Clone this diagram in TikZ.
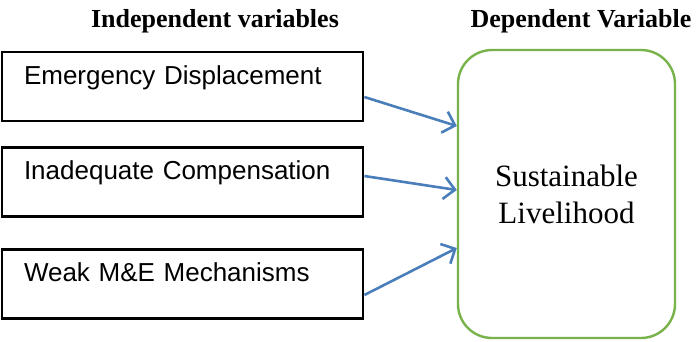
\documentclass[tikz,border=0pt]{standalone}
\usepackage{fontspec}
\setmainfont{Liberation Serif}
\newfontfamily\arialfont{Liberation Sans}
\usetikzlibrary{arrows.meta}
\definecolor{framegreen}{RGB}{119,179,74}
\definecolor{arrowblue}{RGB}{74,126,187}
\begin{document}
\begin{tikzpicture}[x=1pt,y=-1pt,
  head/.style={font=\fontsize{26}{30}\selectfont\bfseries,anchor=base,inner sep=0pt},
  varbox/.style={draw,line width=2.8pt,minimum height=69pt,text width=317pt,align=left,
    inner xsep=22pt,inner ysep=0pt,text height=10pt,text depth=15pt,
    font=\arialfont\fontsize{26}{30}\selectfont},
  depbox/.style={draw=framegreen,line width=2.4pt,rounded corners=34pt,minimum width=217pt,
    minimum height=288pt,align=center,font=\fontsize{31}{37}\selectfont},
  link/.style={draw=arrowblue,line width=2.6pt,-{Straight Barb[length=11pt,width=22pt,line width=2.6pt]}}]
\useasboundingbox (0,0) rectangle (699,341);
\node[head] (indep) at (215,27) {Independent variables};
\node[head] (dep) at (581,27) {Dependent Variable};
\node[varbox] (emerg) at (182.5,86.5) {Emergency Displacement};
\node[varbox] (comp) at (182.5,182) {Inadequate Compensation};
\node[varbox] (weak) at (182.5,284) {Weak M\&E Mechanisms};
\node[depbox] (liv) at (566.5,194) {Sustainable\\Livelihood};
\draw[link] ([yshift=-10.5pt]emerg.east) -- ([yshift=68pt]liv.west);
\draw[link] ([yshift=6pt]comp.east) -- ([yshift=4pt]liv.west);
\draw[link] ([yshift=-11pt]weak.east) -- ([yshift=-54pt]liv.west);
\end{tikzpicture}
\end{document}
